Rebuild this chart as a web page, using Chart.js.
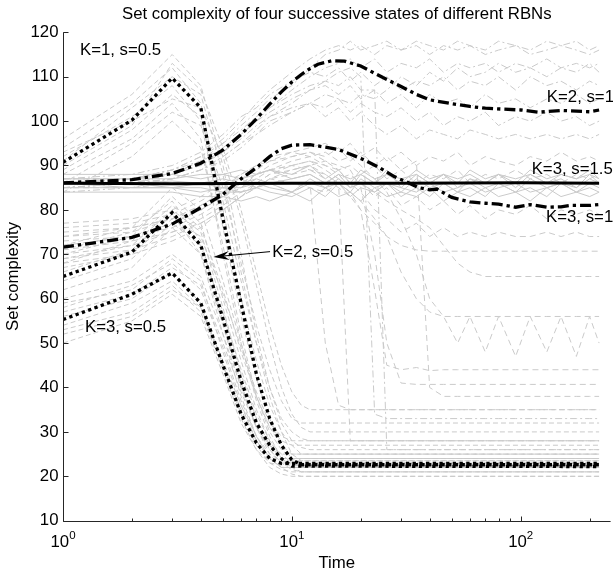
<!DOCTYPE html>
<html>
<head>
<meta charset="utf-8">
<script src="https://cdn.jsdelivr.net/npm/chart.js@4.4.1/dist/chart.umd.min.js"></script>
<style>
body { margin: 0; background: #fff; }
</style>
</head>
<body>
<canvas id="rbn" width="613" height="573"></canvas>
<script>
// ---- black (mean) curves ----
var k1s05T = [1, 2, 3, 4, 5, 6, 7, 8, 9, 10, 11, 220];
var k1s05 = [90.7, 100.2, 109.7, 103, 78, 59, 43, 33, 27, 23.7, 22.6, 22.6];
var k2s05T = [1, 2, 3, 4, 5, 6, 7, 8, 9, 10, 220];
var k2s05 = [65, 70.5, 79.4, 72, 55.5, 41.5, 32, 27, 24, 22.3, 22.2];
var k3s05T = [1, 2, 3, 4, 5, 6, 7, 8, 9, 220];
var k3s05 = [55.3, 61, 65.8, 59, 45, 34, 27.5, 24, 22.9, 22.9];
var k2s1T = [1, 2, 3, 4, 5, 6, 7, 8, 9, 10, 11, 12, 13, 15, 17, 20, 25, 30, 35, 40, 50, 60, 70, 100, 120, 150, 200, 220];
var k2s1 = [86.1, 86.8, 88.2, 90.5, 93.5, 97, 100.5, 103.8, 106.6, 108.8, 110.5, 111.8, 112.8, 113.6, 113.5, 112.4, 109.8, 107.8, 106, 104.8, 103.9, 103.3, 102.9, 102.5, 102, 102.4, 102.1, 102.5];
var k3s1T = [1, 2, 3, 4, 5, 6, 7, 8, 9, 10, 12, 13, 16, 20, 24, 28, 32, 36, 40, 43, 50, 60, 70, 80, 95, 110, 130, 150, 165, 200, 220];
var k3s1 = [71.6, 73.8, 76.8, 80.5, 83.5, 87, 89.5, 92, 93.8, 94.6, 94.7, 94.4, 93.6, 91.6, 89.6, 87.5, 86.2, 85, 84.5, 84.7, 82.8, 81.8, 81.5, 81.3, 80.6, 81.2, 80.6, 80.7, 81, 81, 81.2];
var k3s15T = [1, 3, 10, 30, 100, 220];
var k3s15 = [86, 85.9, 86, 86, 86.1, 86];

// ---- grey single runs ----
var tDrop = [1, 2, 3, 4, 5, 6, 7, 8, 9, 10, 11, 12, 220];
var greyK1s05 = [
  [96, 106, 115, 108, 90, 70, 52, 40, 32, 28, 26.5, 26, 26],
  [94, 104, 112, 104, 80, 60, 46, 36, 30, 27, 25, 25, 25],
  [92, 101, 108, 100, 76, 56, 42, 33, 27, 24, 24, 24, 24],
  [89, 98, 106, 101, 82, 64, 50, 40, 33, 30, 28.5, 28, 28],
  [88, 96, 104, 96, 70, 50, 37, 29, 24, 22, 21, 21, 21],
  [86, 95, 102, 99, 85, 68, 54, 44, 37, 33, 32, 32, 32],
  [91, 103, 110, 106, 88, 66, 50, 38, 30, 25, 23.5, 23.5, 23.5],
  [84, 92, 100, 94, 72, 52, 38, 30, 26, 24, 23, 23, 23],
  [93, 100, 105, 103, 92, 78, 63, 50, 40, 34, 31, 30, 30],
  [90, 99, 113, 107, 94, 80, 66, 54, 45, 39, 36, 35, 35]
];
var greyK2s05 = [
  [72, 76, 85, 80, 64, 50, 38, 31, 27, 25, 25, 25, 25],
  [70, 74, 83, 77, 60, 46, 35, 28, 24, 24, 24, 24, 24],
  [68, 73, 81, 76, 62, 48, 38, 31, 28, 27, 27, 27, 27],
  [66, 71, 79, 70, 52, 38, 29, 24, 22, 22, 22, 22, 22],
  [64, 69, 77, 72, 57, 44, 34, 28, 25, 23, 23, 23, 23],
  [62, 67, 76, 70, 54, 40, 31, 26, 23, 21.5, 21, 21, 21],
  [69, 72, 80, 75, 58, 43, 33, 27, 24, 22.5, 22.5, 22.5, 22.5],
  [67, 70, 78, 74, 61, 49, 39, 32, 29, 28, 28, 28, 28],
  [71, 75, 82, 73, 55, 41, 31, 25, 22, 20.5, 20, 20, 20]
];
var greyK3s05 = [
  [60, 64, 70, 65, 52, 40, 31, 26, 23, 23, 23, 23, 23],
  [58, 63, 68, 62, 49, 37, 29, 24, 22, 22, 22, 22, 22],
  [57, 61, 67, 63, 50, 39, 31, 27, 25, 25, 25, 25, 25],
  [56, 60, 66, 59, 45, 34, 27, 23, 21.5, 21, 21, 21, 21],
  [54, 59, 64, 58, 45, 35, 28, 24, 22, 22, 22, 22, 22],
  [53, 57, 63, 57, 44, 33, 26, 22, 20.5, 20, 20, 20, 20],
  [52, 56, 62, 58, 46, 36, 29, 25, 23.5, 23.5, 23.5, 23.5, 23.5],
  [50, 55, 61, 56, 43, 32, 26, 23, 22.5, 22.5, 22.5, 22.5, 22.5],
  [59, 62, 69, 64, 48, 36, 28, 24, 24, 24, 24, 24, 24]
];

var tRun = [1, 2, 3, 4, 5, 6, 7, 8, 10, 12, 14, 16, 18, 20, 23, 26, 30, 35, 40, 46, 53, 60, 70, 80, 95, 110, 130, 150, 175, 200, 220];
var greyK2s1 = [
  [86, 87, 89, 92, 96, 100, 104, 107, 111, 114, 116, 117, 116, 117, 115, 117, 116, 117, 115, 117, 116, 117, 115, 116, 117, 115, 116, 117, 116, 115, 116],
  [85, 86, 88, 90, 93, 97, 100, 103, 107, 110, 112, 113, 114, 112, 114, 111, 113, 112, 114, 111, 113, 112, 113, 111, 113, 112, 114, 112, 113, 112, 113],
  [87, 88, 90, 93, 97, 101, 103, 106, 109, 111, 110, 112, 109, 111, 108, 110, 107, 109, 108, 110, 107, 109, 108, 110, 107, 110, 108, 109, 107, 109, 108],
  [86, 87, 88, 91, 94, 97, 100, 102, 105, 107, 108, 106, 108, 105, 107, 104, 106, 103, 106, 104, 105, 103, 106, 104, 105, 103, 105, 104, 106, 104, 105],
  [84, 85, 87, 89, 92, 95, 98, 101, 104, 107, 109, 111, 112, 110, 34, 33, 33, 33, 33, 33, 33, 33, 33, 33, 33, 33, 33, 33, 33, 33, 33],
  [86, 86, 87, 89, 91, 94, 97, 99, 102, 104, 103, 105, 102, 104, 102, 101, 103, 100, 102, 99, 101, 100, 102, 99, 101, 100, 102, 100, 101, 99, 100],
  [85, 86, 88, 91, 95, 99, 102, 105, 108, 112, 115, 116, 118, 116, 117, 118, 116, 118, 117, 116, 118, 117, 116, 118, 117, 116, 118, 117, 118, 116, 117],
  [86, 87, 89, 92, 95, 98, 101, 103, 106, 108, 109, 108, 110, 107, 107, 26, 26, 26, 26, 26, 26, 26, 26, 26, 26, 26, 26, 26, 26, 26, 26],
  [87, 87, 89, 91, 93, 96, 99, 101, 103, 104, 106, 105, 104, 106, 105, 107, 110, 108, 111, 109, 112, 110, 111, 113, 111, 112, 110, 112, 111, 113, 111],
  [85, 86, 87, 89, 92, 95, 97, 100, 102, 104, 101, 103, 100, 102, 99, 97, 99, 96, 98, 97, 96, 98, 97, 96, 97, 96, 97, 96, 97, 96, 97]
];
var greyK3s1 = [
  [74, 76, 78, 81, 84, 87, 89, 91, 93, 94, 95, 93, 95, 92, 94, 91, 93, 90, 92, 91, 93, 90, 92, 91, 90, 92, 91, 93, 91, 92, 91],
  [72, 74, 76, 79, 82, 85, 88, 90, 92, 93, 91, 89, 90, 88, 90, 87, 89, 86, 88, 87, 89, 86, 88, 87, 89, 87, 88, 86, 88, 87, 88],
  [70, 72, 75, 78, 81, 84, 86, 88, 90, 91, 90, 88, 85, 86, 83, 85, 81, 83, 80, 82, 79, 81, 78, 80, 79, 81, 78, 80, 79, 80, 79],
  [76, 77, 79, 82, 85, 88, 90, 92, 93, 92, 90, 89, 86, 84, 80, 78, 75, 77, 74, 76, 74, 75, 74, 75, 74, 74, 75, 74, 75, 74, 74],
  [68, 70, 73, 76, 80, 83, 85, 87, 88, 89, 87, 85, 83, 80, 77, 74, 72, 71, 70.7, 70.7, 70.7, 70.7, 70.7, 70.7, 70.7, 70.7, 70.7, 70.7, 70.7, 70.7, 70.7],
  [75, 76, 78, 80, 83, 86, 88, 89, 90, 91, 89, 87, 88, 86, 84, 82, 80, 78, 76, 72, 68, 66, 65, 65, 65, 65, 65, 65, 65, 65, 65],
  [73, 74, 77, 80, 83, 85, 87, 89, 91, 92, 93, 91, 92, 90, 87, 84, 78, 70, 60, 56, 50, 56, 48, 56, 47, 56, 48, 56, 47, 56, 50],
  [71, 73, 75, 77, 80, 83, 86, 88, 89, 90, 88, 86, 84, 80, 62, 45, 44, 44.5, 43.8, 44, 44, 44, 44, 44, 44, 44, 44, 44, 44, 44, 44],
  [69, 71, 74, 77, 80, 83, 85, 87, 89, 90, 91, 90, 89, 85, 70, 50, 41, 40.7, 40.7, 40.7, 40.7, 40.7, 40.7, 40.7, 40.7, 40.7, 40.7, 40.7, 40.7, 40.7, 40.7],
  [77, 78, 80, 83, 86, 88, 90, 91, 92, 93, 92, 94, 91, 93, 90, 92, 89, 91, 40, 38, 38, 38, 38, 38, 38, 38, 38, 38, 38, 38, 38],
  [74, 75, 78, 81, 84, 86, 88, 89, 90, 89, 88, 86, 84, 82, 78, 74, 66, 60, 57, 56, 56, 56, 56, 56, 56, 56, 56, 56, 56, 56, 56],
  [85, 85, 86, 86, 86, 87, 85, 86, 84, 86, 50, 36, 35, 35, 35, 35, 35, 35, 35, 35, 35, 35, 35, 35, 35, 35, 35, 35, 35, 35, 35],
  [87, 87, 86, 86, 85, 86, 85, 87, 86, 85, 84, 86, 28, 28, 28, 28, 28, 28, 28, 28, 28, 28, 28, 28, 28, 28, 28, 28, 28, 28, 28]
];
var greyK3s15 = [
  [86, 86, 86.5, 86, 87, 86, 87, 86, 87, 88, 86, 88, 85, 88, 86, 89, 85, 88, 86, 88, 85, 87, 86, 88, 85, 88, 86, 87, 85, 88, 86],
  [85, 85, 85, 84, 85, 84, 85, 84, 83, 85, 83, 86, 83, 85, 84, 86, 83, 85, 83, 86, 84, 85, 83, 86, 84, 85, 83, 86, 84, 85, 84],
  [87, 87, 87, 88, 88, 89, 88, 89, 88, 90, 87, 89, 86, 89, 87, 88, 86, 89, 87, 88, 86, 89, 87, 88, 86, 89, 87, 88, 87, 89, 87],
  [84, 84, 84, 83, 83, 82, 83, 82, 84, 82, 85, 83, 84, 82, 85, 83, 84, 83, 85, 82, 84, 83, 85, 83, 84, 82, 85, 83, 84, 83, 84],
  [86, 86, 85, 85, 84, 84, 85, 86, 84, 87, 85, 86, 84, 87, 85, 86, 84, 87, 85, 86, 84, 87, 85, 86, 84, 87, 85, 86, 85, 87, 86],
  [88, 88, 88, 87, 88, 87, 88, 89, 87, 88, 86, 88, 87, 88, 86, 88, 87, 88, 86, 88, 87, 88, 86, 88, 87, 88, 86, 88, 87, 88, 87],
  [86, 85, 85, 86, 85, 85, 86, 85, 84, 86, 85, 87, 85, 86, 84, 86, 85, 84, 86, 84, 85, 86, 84, 85, 86, 84, 85, 86, 84, 86, 85]
];

// ---- axes and text ----
var yTicks = [10, 20, 30, 40, 50, 60, 70, 80, 90, 100, 110, 120];
var xMajor = [1, 10, 100];
var xMajorExp = ['0', '1', '2'];
var xMinor = [2, 3, 4, 5, 6, 7, 8, 9, 20, 30, 40, 50, 60, 70, 80, 90, 200];
var notes = [
  { text: 'K=1, s=0.5', t: 1.186, v: 116.0 },
  { text: 'K=3, s=0.5', t: 1.247, v: 53.5 },
  { text: 'K=2, s=0.5', t: 8.2, v: 70.4 },
  { text: 'K=2, s=1', t: 130, v: 105.3 },
  { text: 'K=3, s=1.5', t: 111.6, v: 89.2 },
  { text: 'K=3, s=1', t: 129, v: 78.4 }
];
var arrowFrom = { t: 8.03, v: 70.6 };
var arrowTo = { t: 4.54, v: 69.4 };

var FONT = '"Liberation Sans", Arial, sans-serif';
var GREY = 'rgb(202,202,202)';

function pts(T, V) {
  var out = [];
  for (var i = 0; i < T.length; i++) out.push({ x: T[i], y: V[i] });
  return out;
}

var datasets = [];
function addLine(T, V, color, width, dash, order) {
  datasets.push({
    data: pts(T, V),
    borderColor: color,
    borderWidth: width,
    borderDash: dash,
    pointRadius: 0,
    fill: false,
    tension: 0,
    order: order
  });
}

// black curves on top
addLine(k1s05T, k1s05, '#000', 3.3, [3.3, 3.4], 0);
addLine(k2s05T, k2s05, '#000', 3.3, [3.3, 3.4], 0);
addLine(k3s05T, k3s05, '#000', 3.3, [3.3, 3.4], 0);
addLine(k2s1T, k2s1, '#000', 3.3, [11, 4, 3.3, 4], 0);
addLine(k3s1T, k3s1, '#000', 3.3, [11, 4, 3.3, 4], 0);
addLine(k3s15T, k3s15, '#000', 3, [], 0);

greyK1s05.forEach(function (v) { addLine(tDrop, v, GREY, 1, [5, 3], 1); });
greyK2s05.forEach(function (v) { addLine(tDrop, v, GREY, 1, [5, 3], 1); });
greyK3s05.forEach(function (v) { addLine(tDrop, v, GREY, 1, [5, 3], 1); });
greyK2s1.forEach(function (v) { addLine(tRun, v, GREY, 1, [7, 3, 2, 3], 1); });
greyK3s1.forEach(function (v) { addLine(tRun, v, GREY, 1, [6, 4], 1); });
greyK3s15.forEach(function (v) { addLine(tRun, v, GREY, 1, [], 1); });

function drawArrow(ctx, x0, y0, x1, y1) {
  var ang = Math.atan2(y1 - y0, x1 - x0);
  var L = 16, W = 4.5;
  var cx = Math.cos(ang), sx = Math.sin(ang);
  var nx = -sx, ny = cx;
  var mx = x1 - cx * L * 0.65, my = y1 - sx * L * 0.65;
  var bx = x1 - cx * L, by = y1 - sx * L;
  ctx.beginPath();
  ctx.moveTo(x0, y0);
  ctx.lineTo(mx, my);
  ctx.stroke();
  ctx.beginPath();
  ctx.moveTo(x1, y1);
  ctx.lineTo(bx + nx * W, by + ny * W);
  ctx.lineTo(mx, my);
  ctx.lineTo(bx - nx * W, by - ny * W);
  ctx.closePath();
  ctx.fill();
}

var frame = {
  id: 'frame',
  afterDatasetsDraw: function (chart) {
    var ctx = chart.ctx, a = chart.chartArea;
    var xs = chart.scales.x, ys = chart.scales.y;
    ctx.save();
    ctx.strokeStyle = '#262626';
    ctx.lineWidth = 1;
    var ax = Math.round(a.left) + 0.5;
    var ay = Math.round(a.bottom) + 0.5;
    ctx.beginPath();
    ctx.moveTo(ax, a.top);
    ctx.lineTo(ax, ay);
    ctx.lineTo(a.right, ay);
    yTicks.forEach(function (v) {
      var py = Math.round(ys.getPixelForValue(v)) + 0.5;
      ctx.moveTo(ax, py);
      ctx.lineTo(ax + 5, py);
    });
    xMajor.forEach(function (t) {
      var px = Math.round(xs.getPixelForValue(t)) + 0.5;
      ctx.moveTo(px, ay);
      ctx.lineTo(px, ay - 5);
    });
    xMinor.forEach(function (t) {
      var px = Math.round(xs.getPixelForValue(t)) + 0.5;
      ctx.moveTo(px, ay);
      ctx.lineTo(px, ay - 3);
    });
    ctx.stroke();

    ctx.fillStyle = '#000';
    ctx.font = '16.8px ' + FONT;
    ctx.textAlign = 'right';
    ctx.textBaseline = 'middle';
    yTicks.forEach(function (v) {
      ctx.fillText(String(v), a.left - 4.5, ys.getPixelForValue(v));
    });

    // x labels 10^n
    ctx.textBaseline = 'alphabetic';
    ctx.textAlign = 'left';
    xMajor.forEach(function (t, i) {
      var px = xs.getPixelForValue(t);
      ctx.font = '16.8px ' + FONT;
      var w1 = ctx.measureText('10').width;
      ctx.font = '11.5px ' + FONT;
      var w2 = ctx.measureText(xMajorExp[i]).width;
      var x0 = px - (w1 + w2) / 2;
      ctx.font = '16.8px ' + FONT;
      ctx.fillText('10', x0, a.bottom + 26);
      ctx.font = '11.5px ' + FONT;
      ctx.fillText(xMajorExp[i], x0 + w1, a.bottom + 18);
    });

    // titles
    ctx.font = '16.8px ' + FONT;
    ctx.textAlign = 'center';
    ctx.textBaseline = 'middle';
    ctx.fillText('Set complexity of four successive states of different RBNs', (a.left + a.right) / 2, 14);
    ctx.fillText('Time', (a.left + a.right) / 2, 563);
    ctx.save();
    ctx.translate(13, (a.top + a.bottom) / 2);
    ctx.rotate(-Math.PI / 2);
    ctx.fillText('Set complexity', 0, 0);
    ctx.restore();

    // curve labels
    ctx.textAlign = 'left';
    notes.forEach(function (n) {
      ctx.fillText(n.text, xs.getPixelForValue(n.t), ys.getPixelForValue(n.v));
    });

    ctx.strokeStyle = '#000';
    ctx.fillStyle = '#000';
    ctx.lineWidth = 1;
    drawArrow(ctx,
      xs.getPixelForValue(arrowFrom.t), ys.getPixelForValue(arrowFrom.v),
      xs.getPixelForValue(arrowTo.t), ys.getPixelForValue(arrowTo.v));
    ctx.restore();
  }
};

new Chart(document.getElementById('rbn'), {
  type: 'line',
  data: { datasets: datasets },
  options: {
    responsive: false,
    animation: false,
    events: [],
    layout: { padding: { left: 63, right: 2.4, top: 32.3, bottom: 52.3 } },
    plugins: { legend: { display: false }, tooltip: { enabled: false }, title: { display: false } },
    scales: {
      x: { type: 'logarithmic', min: 1, max: 247, display: false },
      y: { type: 'linear', min: 10, max: 120, display: false }
    }
  },
  plugins: [frame]
});
</script>
</body>
</html>
